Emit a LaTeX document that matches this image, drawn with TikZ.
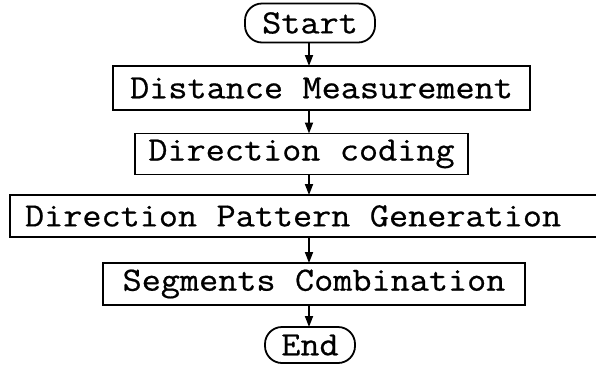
\documentclass[tikz,border=0pt]{standalone}
\usepackage{fontspec}
\usepackage{graphicx}
\usetikzlibrary{arrows.meta}
\newfontfamily\typew[FakeBold=0.6]{Latin Modern Mono}
\newcommand\widetxt[1]{\scalebox{1.092}[1]{#1}}
\newcommand\tsp{\hspace*{0.525em}}
\tikzset{
  boxbase/.style={draw=black, line width=1.8pt, inner sep=0pt, outer sep=0pt,
    font=\typew\fontsize{34}{40}\selectfont, text=black},
  procbox/.style={boxbase, rectangle},
  termbox/.style={boxbase, rectangle, rounded corners=17pt},
  arr/.style={line width=1.8pt, -{Triangle[length=11pt,width=8pt]}}
}
\begin{document}
\begin{tikzpicture}[x=1pt,y=-1pt]
\useasboundingbox (0,0) rectangle (596,365);
\fill[white] (0,0) rectangle (596,365);
\coordinate (col) at (309,0);
\node[termbox, minimum width=130pt, minimum height=39pt] (start) at (310,23) {\widetxt{Start}};
\node[procbox, minimum width=417pt, minimum height=44pt] (dm) at (321.5,88) {\widetxt{Distance\tsp Measurement}};
\node[procbox, minimum width=333pt, minimum height=41pt] (dc) at (301.5,154) {\widetxt{Direction\tsp coding}};
\node[procbox, text width=560pt, inner xsep=15pt, align=left, minimum height=42pt, anchor=west] (dpg) at (10,216) {\widetxt{Direction\tsp Pattern\tsp Generation}};
\node[procbox, minimum width=422pt, minimum height=42pt] (sc) at (314,284) {\widetxt{Segments\tsp Combination}};
\node[termbox, minimum width=90pt, minimum height=36pt] (end) at (310,345) {\widetxt{End}};
\draw[arr] (start.south -| col) -- (dm.north -| col);
\draw[arr] (dm.south -| col) -- (dc.north -| col);
\draw[arr] (dc.south -| col) -- (dpg.north -| col);
\draw[arr] (dpg.south -| col) -- (sc.north -| col);
\draw[arr] (sc.south -| col) -- (end.north -| col);
\end{tikzpicture}
\end{document}
